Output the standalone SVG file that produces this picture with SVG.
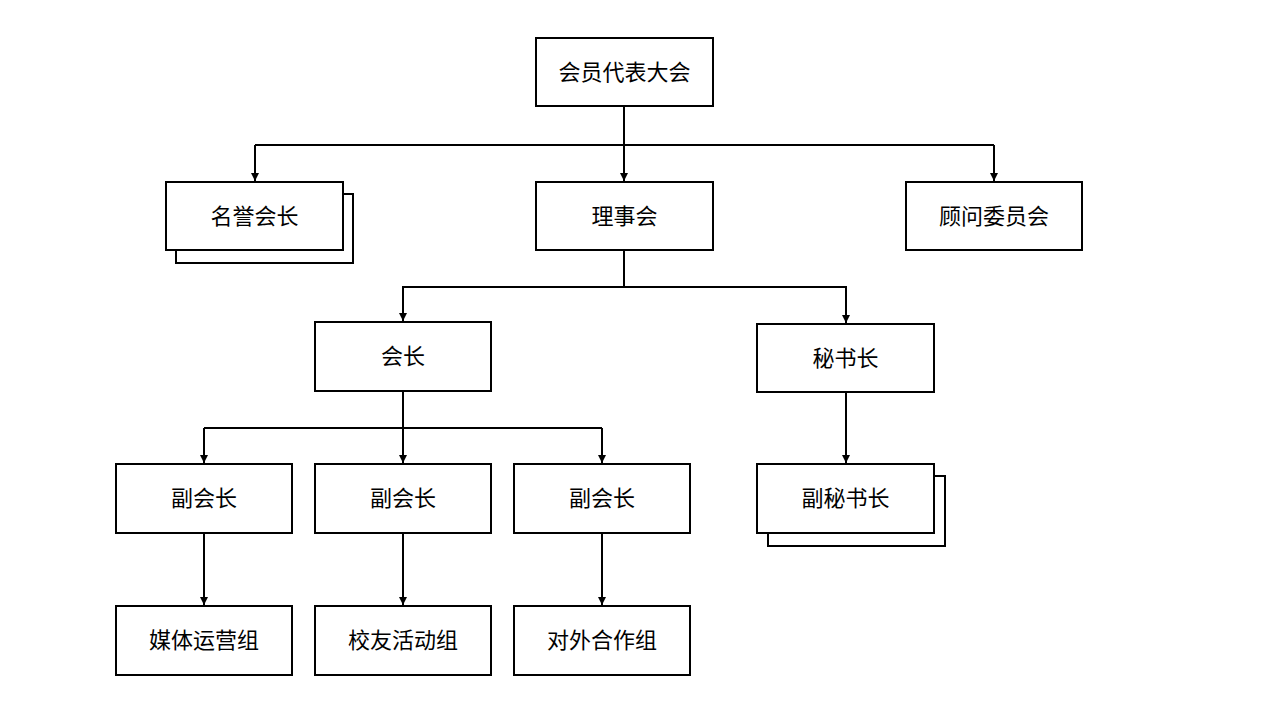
<svg xmlns="http://www.w3.org/2000/svg" width="1265" height="714" viewBox="0 0 1265 714">
<defs>
<marker id="arr" viewBox="0 0 10 10" refX="10" refY="5" markerWidth="8" markerHeight="8" markerUnits="userSpaceOnUse" orient="auto"><path d="M0,0 L10,5 L0,10 z" fill="#000"/></marker>
<style>
.b{fill:#fff;stroke:#000;stroke-width:2}
.t{font-family:"Liberation Serif","Noto Sans CJK SC",serif;font-size:22px;text-anchor:middle;dominant-baseline:central;fill:#000}
.c{fill:none;stroke:#000;stroke-width:2}
</style>
</defs>
<rect width="1265" height="714" fill="#fff"/>
<g id="connectors">
<path class="c" d="M624,106 V145"/>
<path class="c" d="M255,145 H994"/>
<path class="c" d="M255,145 V181" marker-end="url(#arr)"/>
<path class="c" d="M624,145 V181" marker-end="url(#arr)"/>
<path class="c" d="M994,145 V181" marker-end="url(#arr)"/>
<path class="c" d="M624,250 V287 H403 V321" marker-end="url(#arr)"/>
<path class="c" d="M624,287 H846 V323" marker-end="url(#arr)"/>
<path class="c" d="M403,391 V428"/>
<path class="c" d="M204,428 H602"/>
<path class="c" d="M204,428 V463" marker-end="url(#arr)"/>
<path class="c" d="M403,428 V463" marker-end="url(#arr)"/>
<path class="c" d="M602,428 V463" marker-end="url(#arr)"/>
<path class="c" d="M846,392 V463" marker-end="url(#arr)"/>
<path class="c" d="M204,533 V605" marker-end="url(#arr)"/>
<path class="c" d="M403,533 V605" marker-end="url(#arr)"/>
<path class="c" d="M602,533 V605" marker-end="url(#arr)"/>
</g>
<g id="n1"><rect class="b" x="536" y="38" width="177" height="68"/><text class="t" x="624.5" y="72">会员代表大会</text></g>
<g id="n2"><rect class="b" x="176" y="194" width="177" height="69"/><rect class="b" x="166" y="182" width="177" height="68"/><text class="t" x="254.5" y="216">名誉会长</text></g>
<g id="n3"><rect class="b" x="536" y="182" width="177" height="68"/><text class="t" x="624.5" y="216">理事会</text></g>
<g id="n4"><rect class="b" x="906" y="182" width="176" height="68"/><text class="t" x="994" y="216">顾问委员会</text></g>
<g id="n5"><rect class="b" x="315" y="322" width="176" height="69"/><text class="t" x="403" y="356">会长</text></g>
<g id="n6"><rect class="b" x="757" y="324" width="177" height="68"/><text class="t" x="845.5" y="358">秘书长</text></g>
<g id="n7"><rect class="b" x="116" y="464" width="176" height="69"/><text class="t" x="204" y="498">副会长</text></g>
<g id="n8"><rect class="b" x="315" y="464" width="176" height="69"/><text class="t" x="403" y="498">副会长</text></g>
<g id="n9"><rect class="b" x="514" y="464" width="176" height="69"/><text class="t" x="602" y="498">副会长</text></g>
<g id="n10"><rect class="b" x="768" y="476" width="177" height="70"/><rect class="b" x="757" y="464" width="177" height="69"/><text class="t" x="845.5" y="498">副秘书长</text></g>
<g id="n11"><rect class="b" x="116" y="606" width="176" height="69"/><text class="t" x="204" y="640">媒体运营组</text></g>
<g id="n12"><rect class="b" x="315" y="606" width="176" height="69"/><text class="t" x="403" y="640">校友活动组</text></g>
<g id="n13"><rect class="b" x="514" y="606" width="176" height="69"/><text class="t" x="602" y="640">对外合作组</text></g>
</svg>
